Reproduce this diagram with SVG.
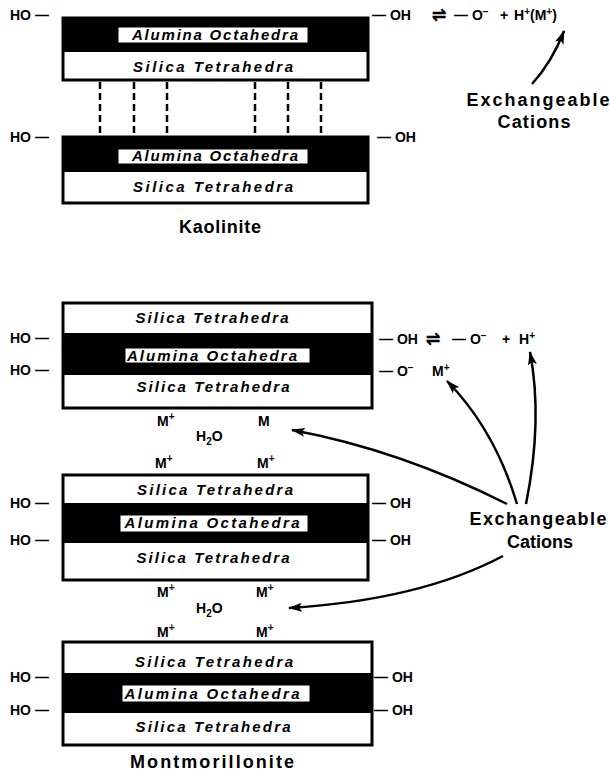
<svg xmlns="http://www.w3.org/2000/svg" width="610" height="776" viewBox="0 0 610 776">
<style>
text{font-family:"Liberation Sans",Arial,sans-serif;font-weight:bold;fill:#000}
.lbl{font-size:15px;font-style:italic;text-anchor:middle}
.chem{font-size:14px}
.eq{font-size:17px}
.m{font-size:14px}
.sup{font-size:10px}
.title{font-size:18px;text-anchor:middle}
.exch{font-size:18px;text-anchor:middle}
.frame{fill:#fff;stroke:#000;stroke-width:3}
.band{fill:#000}
.tag{fill:#fff;stroke:#000;stroke-width:1}
.bond{stroke:#000;stroke-width:2.5;stroke-dasharray:7 4;fill:none}
.arrow{fill:none;stroke:#000;stroke-width:2.5;marker-end:url(#ah)}
</style>
<defs>
<marker id="ah" markerUnits="userSpaceOnUse" markerWidth="16" markerHeight="10" refX="13" refY="5" orient="auto">
<path d="M0,0.5 L14,5 L0,9.5 L3,5 Z" fill="#000"/>
</marker>
</defs>
<rect width="610" height="776" fill="#fff"/>

<!-- Kaolinite -->
<g id="kao-layer1">
<rect class="frame" x="63" y="18" width="305" height="62"/>
<rect class="band" x="63" y="18" width="305" height="34"/>
<rect class="tag" x="118" y="27" width="190" height="16"/>
<text class="lbl" x="215" y="40" textLength="166" lengthAdjust="spacing">Alumina Octahedra</text>
<text class="lbl" x="213" y="72" textLength="160" lengthAdjust="spacing">Silica Tetrahedra</text>
<text class="chem" x="10" y="20">HO —</text>
<text class="chem" x="372" y="20">— OH</text>
<text class="eq" x="432" y="21">⇌</text>
<text class="chem" x="454" y="20">— O<tspan class="sup" dy="-5">−</tspan></text>
<text class="chem" x="500" y="20">+</text>
<text class="chem" x="514" y="20">H<tspan class="sup" dy="-5">+</tspan><tspan dy="5">(M</tspan><tspan class="sup" dy="-5">+</tspan><tspan dy="5">)</tspan></text>
</g>
<g id="kao-layer2">
<rect class="frame" x="63" y="137" width="305" height="66"/>
<rect class="band" x="63" y="137" width="305" height="35"/>
<rect class="tag" x="118" y="149" width="190" height="15"/>
<text class="lbl" x="215" y="161" textLength="166" lengthAdjust="spacing">Alumina Octahedra</text>
<text class="lbl" x="213" y="192" textLength="160" lengthAdjust="spacing">Silica Tetrahedra</text>
<text class="chem" x="10" y="142">HO —</text>
<text class="chem" x="377" y="142">— OH</text>
</g>
<g id="kao-title"><text class="title" x="220" y="233" textLength="82" lengthAdjust="spacing">Kaolinite</text></g>
<g id="kao-cations">
<text class="exch" x="538" y="106" textLength="143" lengthAdjust="spacing">Exchangeable</text>
<text class="exch" x="534" y="128" textLength="73" lengthAdjust="spacing">Cations</text>
</g>

<!-- Montmorillonite -->
<g id="mont-layer1">
<rect class="frame" x="63" y="303" width="309" height="105"/>
<rect class="band" x="63" y="333" width="309" height="42"/>
<rect class="tag" x="125" y="348" width="185" height="15"/>
<text class="lbl" x="212" y="323" textLength="153" lengthAdjust="spacing">Silica Tetrahedra</text>
<text class="lbl" x="212" y="361" textLength="170" lengthAdjust="spacing">Alumina Octahedra</text>
<text class="lbl" x="213" y="392" textLength="153" lengthAdjust="spacing">Silica Tetrahedra</text>
<text class="chem" x="10" y="343">HO —</text>
<text class="chem" x="10" y="375">HO —</text>
<text class="chem" x="379" y="344">— OH</text>
<text class="eq" x="426" y="345">⇌</text>
<text class="chem" x="452" y="344">— O<tspan class="sup" dy="-5">−</tspan></text>
<text class="chem" x="502" y="344">+</text>
<text class="chem" x="519" y="344">H<tspan class="sup" dy="-5">+</tspan></text>
<text class="chem" x="379" y="376">— O<tspan class="sup" dy="-5">−</tspan></text>
<text class="chem" x="432" y="376">M<tspan class="sup" dy="-5">+</tspan></text>
</g>
<g id="gap1">
<text class="m" x="157" y="426">M<tspan class="sup" dy="-6">+</tspan></text>
<text class="m" x="258" y="426">M</text>
<text class="m" x="196" y="441">H<tspan class="sup" dy="4">2</tspan><tspan dy="-4">O</tspan></text>
<text class="m" x="155" y="468">M<tspan class="sup" dy="-6">+</tspan></text>
<text class="m" x="257" y="468">M<tspan class="sup" dy="-6">+</tspan></text>
</g>
<g id="mont-layer2">
<rect class="frame" x="63" y="475" width="305" height="105"/>
<rect class="band" x="63" y="503" width="305" height="40"/>
<rect class="tag" x="120" y="515" width="188" height="17"/>
<text class="lbl" x="215" y="495" textLength="156" lengthAdjust="spacing">Silica Tetrahedra</text>
<text class="lbl" x="212" y="528" textLength="175" lengthAdjust="spacing">Alumina Octahedra</text>
<text class="lbl" x="213" y="563" textLength="153" lengthAdjust="spacing">Silica Tetrahedra</text>
<text class="chem" x="10" y="508">HO —</text>
<text class="chem" x="10" y="545">HO —</text>
<text class="chem" x="372" y="508">— OH</text>
<text class="chem" x="372" y="545">— OH</text>
</g>
<g id="gap2">
<text class="m" x="157" y="597">M<tspan class="sup" dy="-6">+</tspan></text>
<text class="m" x="256" y="597">M<tspan class="sup" dy="-6">+</tspan></text>
<text class="m" x="196" y="613">H<tspan class="sup" dy="4">2</tspan><tspan dy="-4">O</tspan></text>
<text class="m" x="157" y="637">M<tspan class="sup" dy="-6">+</tspan></text>
<text class="m" x="256" y="637">M<tspan class="sup" dy="-6">+</tspan></text>
</g>
<g id="mont-layer3">
<rect class="frame" x="63" y="642" width="309" height="103"/>
<rect class="band" x="63" y="673" width="309" height="40"/>
<rect class="tag" x="122" y="685" width="188" height="17"/>
<text class="lbl" x="214" y="667" textLength="158" lengthAdjust="spacing">Silica Tetrahedra</text>
<text class="lbl" x="212" y="699" textLength="175" lengthAdjust="spacing">Alumina Octahedra</text>
<text class="lbl" x="213" y="732" textLength="155" lengthAdjust="spacing">Silica Tetrahedra</text>
<text class="chem" x="10" y="682">HO —</text>
<text class="chem" x="10" y="715">HO —</text>
<text class="chem" x="374" y="682">— OH</text>
<text class="chem" x="374" y="715">— OH</text>
</g>
<g id="mont-title"><text class="title" x="212" y="768" textLength="164" lengthAdjust="spacing">Montmorillonite</text></g>
<g id="mont-cations">
<text class="exch" x="538" y="525" textLength="137" lengthAdjust="spacing">Exchangeable</text>
<text class="exch" x="540" y="548" textLength="66" lengthAdjust="spacing">Cations</text>
</g>

<g id="connectors">
<line class="bond" x1="100" y1="82" x2="100" y2="136"/>
<line class="bond" x1="134" y1="82" x2="134" y2="136"/>
<line class="bond" x1="167" y1="82" x2="167" y2="136"/>
<line class="bond" x1="255" y1="82" x2="255" y2="136"/>
<line class="bond" x1="288" y1="82" x2="288" y2="136"/>
<line class="bond" x1="321" y1="82" x2="321" y2="136"/>
<path class="arrow" d="M532,84 Q552,62 564,31"/>
<path class="arrow" d="M507,504 Q400,450 292,430"/>
<path class="arrow" d="M517,504 Q495,430 447,381"/>
<path class="arrow" d="M526,504 Q543,420 530,352"/>
<path class="arrow" d="M503,556 Q420,600 289,608"/>
</g>
</svg>
